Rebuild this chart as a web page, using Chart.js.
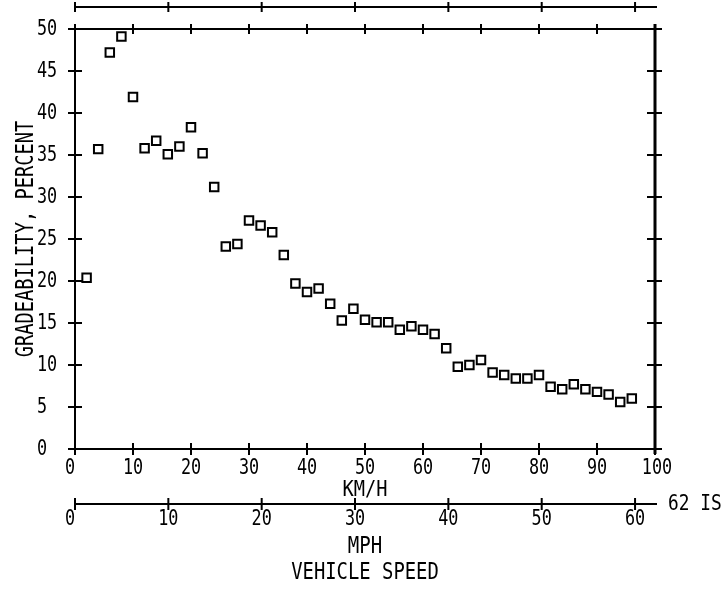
<!DOCTYPE html>
<html>
<head>
<meta charset="utf-8">
<script src="https://cdn.jsdelivr.net/npm/chart.js@4.4.1/dist/chart.umd.min.js"></script>
<style>
    html, body { margin: 0; padding: 0; background: #fff; }
</style>
</head>
<body>
<canvas id="grafico" width="725" height="594"></canvas>
<script>

//***********************
//Dados: gradeabilidade (%) por velocidade (km/h)
//***********************
const velocidades_kmh = [
    2, 4, 6, 8, 10, 12, 14, 16, 18, 20, 22, 24, 26, 28, 30, 32,
    34, 36, 38, 40, 42, 44, 46, 48, 50, 52, 54, 56, 58, 60, 62, 64,
    66, 68, 70, 72, 74, 76, 78, 80, 82, 84, 86, 88, 90, 92, 94, 96
];

const gradeabilidade = [
    20.4, 35.7, 47.2, 49.1, 41.9, 35.8, 36.7, 35.1, 36.0, 38.3, 35.2, 31.2, 24.1, 24.4, 27.2, 26.6,
    25.8, 23.1, 19.7, 18.7, 19.1, 17.3, 15.3, 16.7, 15.4, 15.1, 15.1, 14.2, 14.6, 14.2, 13.7, 12.0,
    9.8, 10.0, 10.6, 9.1, 8.8, 8.4, 8.4, 8.8, 7.4, 7.1, 7.7, 7.1, 6.8, 6.5, 5.6, 6.0
];

const ticks_kmh = [0, 10, 20, 30, 40, 50, 60, 70, 80, 90, 100];
const ticks_mph = [0, 10, 20, 30, 40, 50, 60];
const ticks_gradeabilidade = [0, 5, 10, 15, 20, 25, 30, 35, 40, 45, 50];

const KMH_POR_MPH = 1.609344;
const FONTE = '"DejaVu Sans Mono", monospace';


//Escreve texto estreito, imitando a letra de plotter
function escrever(ctx, texto, x, y, tamanho, escala_x, alinhamento, angulo) {
    ctx.save();
    ctx.translate(x, y);
    if (angulo) {
        ctx.rotate(angulo);
    }
    ctx.scale(escala_x, 1);
    ctx.font = tamanho + 'px ' + FONTE;
    ctx.textAlign = alinhamento;
    ctx.textBaseline = 'middle';
    ctx.fillStyle = '#000';
    ctx.fillText(texto, 0, 0);
    ctx.restore();
}

function linha(ctx, x1, y1, x2, y2) {
    ctx.beginPath();
    ctx.moveTo(x1, y1);
    ctx.lineTo(x2, y2);
    ctx.stroke();
}


//***********************
//Plugin que desenha a moldura, os eixos km/h e mph e os textos
//***********************
const plugin_eixos = {
    id: 'eixos_plotter',

    beforeDatasetsDraw(chart) {
        const ctx = chart.ctx;
        const area = chart.chartArea;
        const escala_x = chart.scales.x;
        const escala_y = chart.scales.y;
        const escala_mph = chart.scales.mph;

        ctx.save();
        ctx.strokeStyle = '#000';
        ctx.lineCap = 'butt';
        ctx.lineWidth = 2;

        //Eixo mph de cima (sem rótulos)
        const y_topo = 7;
        linha(ctx, area.left, y_topo, area.right + 2, y_topo);
        ticks_mph.forEach(v => {
            const px = escala_mph.getPixelForValue(v);
            linha(ctx, px, y_topo - 5, px, y_topo + 5);
        });

        //Moldura de cima com marcas de km/h
        linha(ctx, area.left, area.top, area.right, area.top);
        ticks_kmh.forEach(v => {
            const px = escala_x.getPixelForValue(v);
            linha(ctx, px, area.top - 5, px, area.top + 5);
        });

        //Eixo km/h de baixo
        linha(ctx, area.left, area.bottom, area.right, area.bottom);
        ticks_kmh.forEach(v => {
            const px = escala_x.getPixelForValue(v);
            linha(ctx, px, area.bottom - 6, px, area.bottom + 6);
        });

        //Eixo de gradeabilidade (esquerda)
        linha(ctx, area.left, area.top - 4, area.left, area.bottom);
        ticks_gradeabilidade.forEach(v => {
            const py = escala_y.getPixelForValue(v);
            linha(ctx, area.left - 7, py, area.left + 7, py);
        });

        //Moldura da direita, mais grossa
        ctx.lineWidth = 3;
        linha(ctx, area.right, area.top - 5, area.right, area.bottom + 5);
        ctx.lineWidth = 2;
        ticks_gradeabilidade.forEach(v => {
            const py = escala_y.getPixelForValue(v);
            linha(ctx, area.right - 8, py, area.right + 7, py);
        });

        //Eixo mph de baixo
        const y_mph = 504;
        linha(ctx, area.left, y_mph, area.right + 2, y_mph);
        ticks_mph.forEach(v => {
            const px = escala_mph.getPixelForValue(v);
            linha(ctx, px, y_mph - 6, px, y_mph + 6);
        });

        ctx.restore();
    },

    afterDraw(chart) {
        const ctx = chart.ctx;
        const area = chart.chartArea;
        const escala_x = chart.scales.x;
        const escala_y = chart.scales.y;
        const escala_mph = chart.scales.mph;

        //Rótulos da gradeabilidade, alinhados à esquerda
        ticks_gradeabilidade.forEach(v => {
            const py = escala_y.getPixelForValue(v);
            escrever(ctx, String(v), 37, py + 1, 21, 0.8, 'left');
        });

        //Rótulos km/h (um dígito fica deslocado à esquerda)
        ticks_kmh.forEach(v => {
            const px = escala_x.getPixelForValue(v);
            const texto = String(v);
            const desvio = texto.length == 1 ? -5 : 2 * (texto.length - 2);
            escrever(ctx, texto, px + desvio, 469, 21, 0.8, 'center');
        });

        //Rótulos mph
        ticks_mph.forEach(v => {
            const px = escala_mph.getPixelForValue(v);
            const texto = String(v);
            const desvio = texto.length == 1 ? -5 : 0;
            escrever(ctx, texto, px + desvio, 520, 21, 0.8, 'center');
        });

        const centro_x = escala_x.getPixelForValue(50);
        escrever(ctx, 'KM/H', centro_x, 490, 22, 0.85, 'center');
        escrever(ctx, 'MPH', centro_x, 547, 23, 0.83, 'center');
        escrever(ctx, 'VEHICLE SPEED', centro_x, 573, 23, 0.82, 'center');
        escrever(ctx, '62 IS', 668, 505, 21, 0.85, 'left');

        //Título do eixo vertical, encostando nos rótulos
        escrever(ctx, 'GRADEABILITY, PERCENT', 27, (area.top + area.bottom) / 2, 24, 0.78, 'center', -Math.PI / 2);
    }
};


//***********************
//Gráfico de dispersão
//***********************
const pontos = velocidades_kmh.map((v, i) => ({ x: v, y: gradeabilidade[i] }));

new Chart(document.getElementById('grafico').getContext('2d'), {
    type: 'scatter',
    data: {
        datasets: [{
            data: pontos,
            pointStyle: 'rect',
            pointRadius: 6,
            pointBorderWidth: 2,
            pointBorderColor: '#000',
            pointBackgroundColor: '#fff'
        }]
    },
    options: {
        responsive: false,
        animation: false,
        devicePixelRatio: 1,
        layout: {
            padding: { left: 75, right: 70, top: 29, bottom: 145 }
        },
        scales: {
            x: { type: 'linear', min: 0, max: 100, display: false },
            y: { type: 'linear', min: 0, max: 50, display: false },
            mph: { type: 'linear', axis: 'x', min: 0, max: 100 / KMH_POR_MPH, display: false }
        },
        plugins: {
            legend: { display: false },
            tooltip: { enabled: false }
        }
    },
    plugins: [plugin_eixos]
});
</script>
</body>
</html>
